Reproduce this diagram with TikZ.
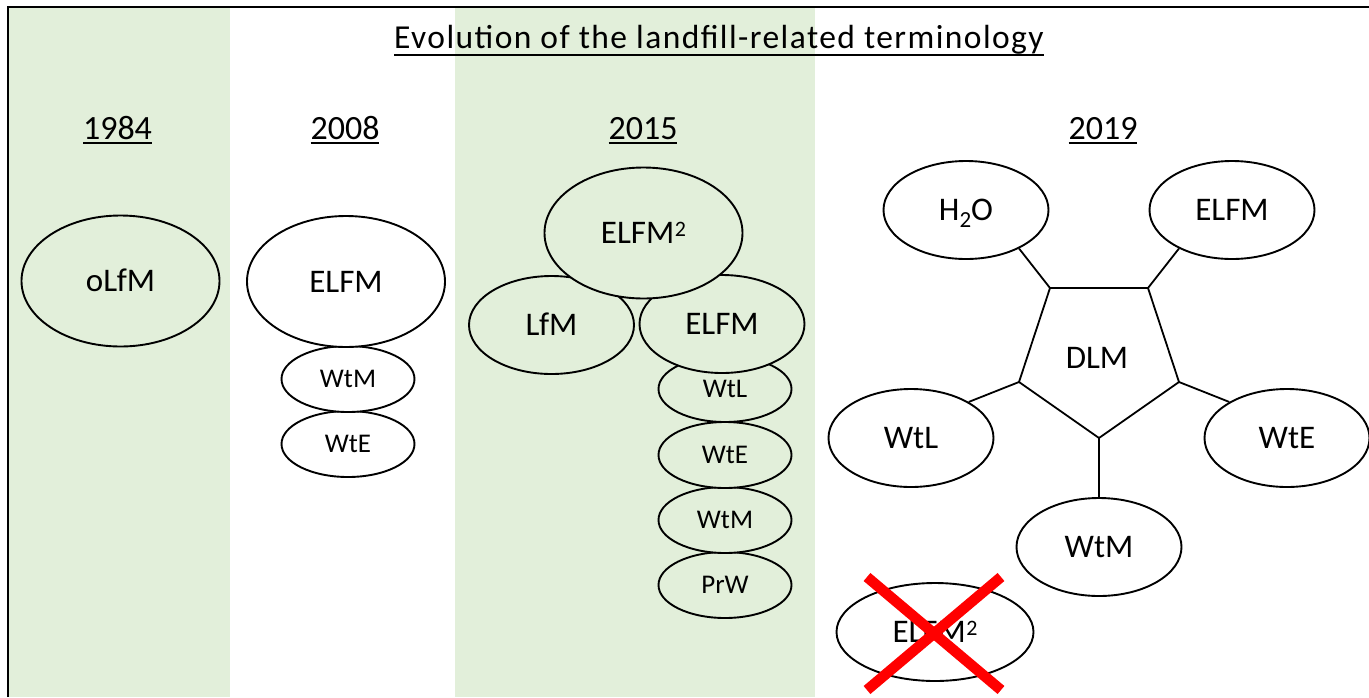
\documentclass[tikz,border=0pt]{standalone}
\usepackage{fontspec}
\setmainfont{Carlito}
\newfontfamily\titlefont[LetterSpace=4.3]{Carlito}
\usetikzlibrary{shapes.geometric}
\definecolor{bandgreen}{HTML}{E2EFDA}
\newcommand{\myul}[3]{{\setbox0\hbox{#3}\rlap{\rule[#1]{\wd0}{#2}}\box0}}
\newcommand{\sqsup}{\kern0.5pt\raisebox{7pt}{\fontsize{22}{22}\selectfont 2}}
\tikzset{
  ell/.style={ellipse, draw=black, line width=1.9pt, fill=white, inner sep=0pt,
    font=\fontsize{33}{33}\selectfont, text height=21.3pt, text depth=0pt},
  bigell/.style={minimum width=198pt, minimum height=131pt},
  midell/.style={minimum width=165pt, minimum height=98pt},
  smallell/.style={minimum width=133pt, minimum height=66pt,
    font=\fontsize{27}{27}\selectfont, text height=17.4pt},
  onband/.style={fill=bandgreen},
  conn/.style={draw=black, line width=1.8pt},
  yearlbl/.style={anchor=base, inner sep=0pt, font=\fontsize{34}{34}\selectfont},
  redx/.style={draw=red, line width=10.5pt},
}
\begin{document}
\begin{tikzpicture}[x=1pt, y=-1pt]
\useasboundingbox (0,0) rectangle (1369,697);
% background bands
\fill[bandgreen] (9,8) rectangle (230,697);
\fill[bandgreen] (455,8) rectangle (815,697);
% frame
\draw[line width=2.5pt, line join=miter] (8,697) -- (8,7) -- (1369,7);
% title
\node[anchor=base, inner sep=0pt, font=\titlefont\fontsize{33.5}{33.5}\selectfont] (title) at (719,48)
  {\myul{-8.3pt}{2.3pt}{Evolution of the landfill-related terminology}};
% years
\node[yearlbl] (y1984) at (117.5,139) {\myul{-5pt}{2.3pt}{1984}};
\node[yearlbl] (y2008) at (345,139) {\myul{-5pt}{2.3pt}{2008}};
\node[yearlbl] (y2015) at (643,139) {\myul{-5pt}{2.3pt}{2015}};
\node[yearlbl] (y2019) at (1103,139) {\myul{-5pt}{2.3pt}{2019}};
% 1984
\node[ell, bigell, onband] (olfm) at (120.5,281) {oLfM};
% 2008
\node[ell, smallell] (wte8) at (348,444) {WtE};
\node[ell, smallell] (wtm8) at (348,379) {WtM};
\node[ell, bigell] (elfm8) at (346,281.5) {ELFM};
% 2015
\node[ell, smallell, onband] (prw15) at (725,585) {PrW};
\node[ell, smallell, onband] (wtm15) at (725,520) {WtM};
\node[ell, smallell, onband] (wte15) at (725,455) {WtE};
\node[ell, smallell, onband] (wtl15) at (725,389) {WtL};
\node[ell, midell, onband] (elfm15) at (722,324) {ELFM};
\node[ell, midell, onband] (lfm15) at (551.5,325) {LfM};
\node[ell, bigell, onband] (elfmsq15) at (643.5,233) {ELFM\sqsup};
% 2019
\coordinate (p1) at (1050,288);
\coordinate (p2) at (1148,288);
\coordinate (p3) at (1179,382);
\coordinate (p4) at (1099,438);
\coordinate (p5) at (1019,382);
\draw[conn, line join=miter] (p1) -- (p2) -- (p3) -- (p4) -- (p5) -- cycle;
\node[inner sep=0pt, font=\fontsize{33}{33}\selectfont, text height=21.3pt, text depth=0pt] (dlm) at (1097,358) {DLM};
\node[ell, midell] (h2o) at (966,210)
  {H\raisebox{-7pt}{\fontsize{23}{23}\selectfont 2}O};
\node[ell, midell] (elfm19) at (1232,210) {ELFM};
\node[ell, midell] (wtl19) at (911,438) {WtL};
\node[ell, midell] (wte19) at (1287,438) {WtE};
\node[ell, midell] (wtm19) at (1099,547) {WtM};
\draw[conn] (p1) -- (h2o.-36);
\draw[conn] (p2) -- (elfm19.-144);
\draw[conn] (p5) -- (wtl19.32);
\draw[conn] (p3) -- (wte19.148);
\draw[conn] (p4) -- (wtm19.north);
% crossed out
\node[ell, minimum width=197pt, minimum height=98pt] (elfmsq19) at (935,632) {ELFM\sqsup};
\coordinate (x1) at (867,577);
\coordinate (x2) at (1001,690);
\coordinate (x3) at (1001,577);
\coordinate (x4) at (867,690);
\draw[redx] (x1) -- (x2);
\draw[redx] (x3) -- (x4);
\end{tikzpicture}
\end{document}
